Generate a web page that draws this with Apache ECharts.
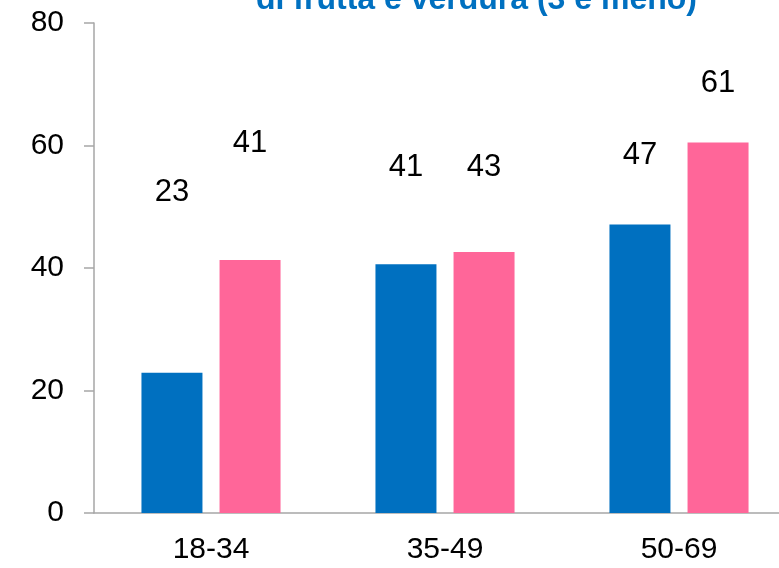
<!DOCTYPE html>
<html>
<head>
<meta charset="utf-8">
<script src="https://cdn.jsdelivr.net/npm/echarts@6/dist/echarts.min.js"></script>
<style>html,body{margin:0;padding:0;background:#fff}#c{width:779px;height:568px}</style>
</head>
<body>
<div id="c"></div>
<script>
const categories = ['18-34', '35-49', '50-69'];
const seriesBlue = [22.9, 40.6, 47.1];
const seriesPink = [41.3, 42.6, 60.5];
const yTicks = [0, 20, 40, 60, 80];
const titleText = 'di frutta e verdura (3 e meno)';

// label vertical offsets (style only)
const blueLabelShift = [-165, -81, -54];
const pinkLabelShift = [-101, -69, -43];

const FONT = 'Liberation Sans, Arial, sans-serif';

function buildData(vals, shifts) {
  return vals.map((v, i) => ({ value: v, label: { offset: [0, shifts[i]] } }));
}

const chart = echarts.init(document.getElementById('c'), null, { renderer: 'canvas' });
chart.setOption({
  animation: false,
  title: {
    text: titleText,
    left: 256,
    top: -16,
    padding: 0,
    textStyle: { color: '#0070C0', fontSize: 32, fontWeight: 'bold', fontFamily: FONT }
  },
  grid: { left: 94, top: 23, width: 702, height: 490, containLabel: false, outerBoundsMode: 'none' },
  xAxis: {
    type: 'category',
    data: categories,
    axisLine: { lineStyle: { color: '#A6A6A6', width: 1.5 } },
    axisTick: { show: false },
    axisLabel: { color: '#000', fontSize: 30, fontFamily: FONT, margin: 22 }
  },
  yAxis: {
    type: 'value',
    min: yTicks[0],
    max: yTicks[yTicks.length - 1],
    interval: 20,
    splitLine: { show: false },
    axisLine: { show: true, lineStyle: { color: '#A6A6A6', width: 1.5 } },
    axisTick: { show: true, inside: false, length: 10, lineStyle: { color: '#A6A6A6', width: 1.5 } },
    axisLabel: { color: '#000', fontSize: 30, fontFamily: FONT, margin: 30 }
  },
  series: [
    {
      type: 'bar',
      data: buildData(seriesBlue, blueLabelShift),
      barWidth: 61,
      barGap: '28%',
      itemStyle: { color: '#0070C0' },
      label: { show: true, position: 'top', distance: 0, color: '#000', fontSize: 31, fontFamily: FONT,
        formatter: p => Math.round(p.value) }
    },
    {
      type: 'bar',
      data: buildData(seriesPink, pinkLabelShift),
      barWidth: 61,
      barGap: '28%',
      itemStyle: { color: '#FF6699' },
      label: { show: true, position: 'top', distance: 0, color: '#000', fontSize: 31, fontFamily: FONT,
        formatter: p => Math.round(p.value) }
    }
  ]
});
</script>
</body>
</html>
